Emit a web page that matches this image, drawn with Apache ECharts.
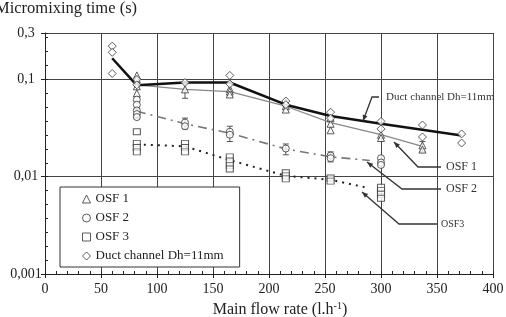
<!DOCTYPE html>
<html>
<head>
<meta charset="utf-8">
<script src="https://cdn.jsdelivr.net/npm/echarts@6/dist/echarts.min.js"></script>
<style>
    html, body { margin: 0; padding: 0; background: #fff; }
    #chart { width: 506px; height: 317px; }
</style>
</head>
<body>
<div id="chart"></div>
<script>
// x ticks and y range
var xTicks = [0, 50, 100, 150, 200, 250, 300, 350, 400];
var yRange = [0.001, 0.3];

// measured points [flow rate, micromixing time]
var osf1Points = [
    [82, 0.11], [82, 0.1], [82, 0.085], [82, 0.072],
    [125, 0.079],
    [165, 0.08], [165, 0.075], [165, 0.07],
    [215, 0.058], [215, 0.053], [215, 0.049],
    [255, 0.04], [255, 0.035], [255, 0.03],
    [300, 0.027], [300, 0.025],
    [337, 0.021], [337, 0.019]
];
var osf2Points = [
    [82, 0.062], [82, 0.055], [82, 0.048], [82, 0.044], [82, 0.041],
    [125, 0.036], [125, 0.033],
    [165, 0.029], [165, 0.027],
    [215, 0.0195],
    [255, 0.0165], [255, 0.0155],
    [300, 0.0155], [300, 0.014], [300, 0.0132]
];
var osf3Points = [
    [82, 0.029], [82, 0.022], [82, 0.02], [82, 0.018],
    [125, 0.022], [125, 0.02], [125, 0.018],
    [165, 0.016], [165, 0.0145], [165, 0.013], [165, 0.012],
    [215, 0.011], [215, 0.0102], [215, 0.0095],
    [255, 0.0097], [255, 0.009],
    [300, 0.0078], [300, 0.0072], [300, 0.0066], [300, 0.006]
];
var ductPoints = [
    [60, 0.22], [60, 0.19], [60, 0.115],
    [82, 0.1], [82, 0.088],
    [125, 0.093],
    [165, 0.11], [165, 0.09],
    [215, 0.06], [215, 0.055],
    [255, 0.046], [255, 0.04],
    [300, 0.037], [300, 0.031],
    [337, 0.034], [337, 0.0256],
    [372, 0.0275], [372, 0.0222]
];

// trend lines
var osf1Line = [[82, 0.088], [125, 0.079], [165, 0.075], [215, 0.053], [255, 0.036], [300, 0.027], [337, 0.0205]];
var osf2Line = [[82, 0.047], [125, 0.035], [165, 0.028], [215, 0.0193], [255, 0.016], [290, 0.0147]];
var osf3Line = [[82, 0.0215], [125, 0.0205], [165, 0.0148], [215, 0.0102], [255, 0.0093], [288, 0.0077]];
var ductLine = [[60, 0.165], [82, 0.087], [125, 0.093], [165, 0.093], [215, 0.055], [255, 0.042], [300, 0.035], [372, 0.0265]];

// error bars [x, low, high]
var errorBars = [
    [125, 0.064, 0.095],
    [337, 0.018, 0.023],
    [82, 0.04, 0.05],
    [125, 0.031, 0.04],
    [165, 0.023, 0.033],
    [215, 0.0168, 0.0217],
    [255, 0.0142, 0.018]
];

var serif = '"Liberation Serif", "DejaVu Serif", serif';

// 注释引线 + 箭头
function callout(points, label, tx, ty, size) {
    var a = points[points.length - 2], b = points[points.length - 1];
    var ang = Math.atan2(b[1] - a[1], b[0] - a[0]);
    var L = 6, W = 2.5;
    var head = [
        b,
        [b[0] - L * Math.cos(ang) + W * Math.sin(ang), b[1] - L * Math.sin(ang) - W * Math.cos(ang)],
        [b[0] - L * Math.cos(ang) - W * Math.sin(ang), b[1] - L * Math.sin(ang) + W * Math.cos(ang)]
    ];
    return [
        { type: 'polyline', shape: { points: points }, style: { stroke: '#333', lineWidth: 1.3, fill: null }, z: 50 },
        { type: 'polygon', shape: { points: head }, style: { fill: '#333' }, z: 50 },
        { type: 'text', x: tx, y: ty, style: { text: label, font: size + 'px ' + serif, fill: '#333', verticalAlign: 'middle' }, z: 50 }
    ];
}

var graphics = [
    {
        type: 'text', left: -5, top: 0,
        style: { text: 'Micromixing time (s)', font: '16.5px ' + serif, fill: '#222' }
    }
];
graphics = graphics.concat(callout([[379, 97], [372, 97], [363, 121]], 'Duct channel Dh=11mm', 386, 97, 11));
graphics = graphics.concat(callout([[441, 167], [418, 167], [394, 142]], 'OSF 1', 446, 167, 12));
graphics = graphics.concat(callout([[441, 189], [402, 189], [367, 162]], 'OSF 2', 446, 189, 12));
graphics = graphics.concat(callout([[437, 224], [399, 224], [362, 192]], 'OSF3', 441, 224, 10));

var hollow = { color: '#fff', borderColor: '#333', borderWidth: 1 };
var logMin = Math.log10(yRange[0]), logMax = Math.log10(yRange[1]);

var myChart = echarts.init(document.getElementById('chart'));
var option = {
    animation: false,
    textStyle: { fontFamily: serif },
    grid: { left: 45, right: 13, top: 33, bottom: 43, containLabel: false, outerBoundsMode: 'none' },
    legend: {
        orient: 'vertical',
        left: 60,
        top: 187,
        backgroundColor: '#fff',
        borderColor: '#333',
        borderWidth: 1,
        padding: [5, 16, 4, 22],
        itemGap: 5,
        itemWidth: 8,
        itemHeight: 8,
        itemStyle: hollow,
        textStyle: { fontFamily: serif, fontSize: 13, color: '#222', lineHeight: 14 },
        selectedMode: false,
        data: [
            { name: 'OSF 1', icon: 'triangle' },
            { name: 'OSF 2', icon: 'circle' },
            { name: 'OSF 3', icon: 'rect' },
            { name: 'Duct channel Dh=11mm', icon: 'diamond' }
        ]
    },
    graphic: graphics,
    xAxis: [
        {
            type: 'value',
            min: xTicks[0],
            max: xTicks[xTicks.length - 1],
            interval: 50,
            position: 'bottom',
            name: 'Main flow rate (l.h{sup|-1})',
            nameLocation: 'middle',
            nameGap: 25,
            nameTextStyle: {
                fontFamily: serif, fontSize: 16, color: '#222',
                padding: [0, 0, 0, 22],
                rich: { sup: { fontFamily: serif, fontSize: 10, verticalAlign: 'top', padding: [0, 0, 8, 0] } }
            },
            axisLine: { lineStyle: { color: '#222', width: 1 } },
            axisTick: { show: true, inside: false, length: 4, lineStyle: { color: '#222' } },
            axisLabel: { color: '#222', fontSize: 14, margin: 8, fontFamily: serif },
            splitLine: { show: true, lineStyle: { color: '#444', width: 1 } }
        },
        {
            // 次刻度
            type: 'value',
            min: xTicks[0],
            max: xTicks[xTicks.length - 1],
            interval: 10,
            position: 'bottom',
            axisLine: { show: false },
            axisTick: { show: true, inside: true, length: 3, lineStyle: { color: '#222' } },
            axisLabel: { show: false },
            splitLine: { show: false }
        }
    ],
    yAxis: [
        {
            type: 'log',
            logBase: 10,
            min: yRange[0],
            max: yRange[1],
            position: 'left',
            axisLine: { show: true, lineStyle: { color: '#222', width: 1 } },
            axisTick: { show: true, inside: false, length: 4, lineStyle: { color: '#222' } },
            axisLabel: {
                color: '#222', fontSize: 14, margin: 19, align: 'center', fontFamily: serif,
                showMaxLabel: true,
                formatter: function (v) {
                    return String(+v.toPrecision(3)).replace('.', ',');
                }
            },
            splitLine: { show: true, lineStyle: { color: '#444', width: 1 } }
        },
        {
            // 次刻度（对数空间均分）
            type: 'value',
            min: logMin,
            max: logMax,
            interval: 1 / 7,
            position: 'left',
            axisLine: { show: false },
            axisTick: { show: true, inside: true, length: 3, lineStyle: { color: '#222' } },
            axisLabel: { show: false },
            splitLine: { show: false }
        }
    ],
    series: [
        {
            name: 'OSF 1 line', type: 'line', data: osf1Line, showSymbol: false,
            lineStyle: { color: '#888', width: 1.3 }, z: 3
        },
        {
            name: 'OSF 2 line', type: 'line', data: osf2Line, showSymbol: false,
            lineStyle: { color: '#777', width: 1.6, type: [9, 5, 2, 5] }, z: 3
        },
        {
            name: 'OSF 3 line', type: 'line', data: osf3Line, showSymbol: false,
            lineStyle: { color: '#222', width: 2, type: [2, 5] }, z: 3
        },
        {
            name: 'Duct line', type: 'line', data: ductLine, showSymbol: false,
            lineStyle: { color: '#111', width: 2.5 }, z: 4
        },
        {
            name: 'error', type: 'custom', data: errorBars, z: 5,
            renderItem: function (params, api) {
                var hi = api.coord([api.value(0), api.value(2)]);
                var lo = api.coord([api.value(0), api.value(1)]);
                var st = { stroke: '#555', lineWidth: 1 };
                return {
                    type: 'group',
                    children: [
                        { type: 'line', shape: { x1: hi[0], y1: hi[1], x2: lo[0], y2: lo[1] }, style: st },
                        { type: 'line', shape: { x1: hi[0] - 3, y1: hi[1], x2: hi[0] + 3, y2: hi[1] }, style: st },
                        { type: 'line', shape: { x1: lo[0] - 3, y1: lo[1], x2: lo[0] + 3, y2: lo[1] }, style: st }
                    ]
                };
            }
        },
        {
            name: 'OSF 1', type: 'scatter', data: osf1Points, symbol: 'triangle', symbolSize: 7,
            itemStyle: hollow, z: 6
        },
        {
            name: 'OSF 2', type: 'scatter', data: osf2Points, symbol: 'circle', symbolSize: 7,
            itemStyle: hollow, z: 6
        },
        {
            name: 'OSF 3', type: 'scatter', data: osf3Points, symbol: 'rect', symbolSize: [7, 6],
            itemStyle: hollow, z: 6
        },
        {
            name: 'Duct channel Dh=11mm', type: 'scatter', data: ductPoints, symbol: 'diamond', symbolSize: 8,
            itemStyle: hollow, z: 6
        }
    ]
};
myChart.setOption(option);
</script>
</body>
</html>
